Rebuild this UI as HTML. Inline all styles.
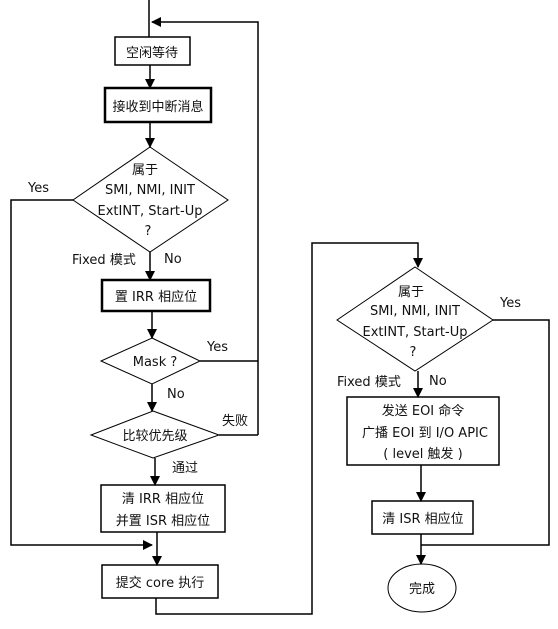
<!DOCTYPE html>
<html><head><meta charset="utf-8"><style>
html,body{margin:0;padding:0;background:#fff;}
svg text{font-family:"DejaVu Sans","Noto Sans CJK SC",sans-serif;font-size:13px;fill:#111;}
</style></head><body>
<svg width="558" height="624" viewBox="0 0 558 624" xmlns="http://www.w3.org/2000/svg">
<defs><marker id="a" markerWidth="10" markerHeight="10" refX="9" refY="5" orient="auto" markerUnits="userSpaceOnUse"><path d="M0,0 L10,5 L0,10 z" fill="#000"/></marker></defs>
<g stroke="#000" stroke-width="1.5" fill="none">
<line x1="149" y1="0" x2="149" y2="37"/>
<polyline points="258,435 258,22 152,22" marker-end="url(#a)"/>
<line x1="150" y1="65" x2="150" y2="88" marker-end="url(#a)"/>
<line x1="150" y1="122" x2="150" y2="147" marker-end="url(#a)"/>
<polyline points="73,200 11,200 11,545 152,545" marker-end="url(#a)"/>
<line x1="150" y1="252" x2="150" y2="280" marker-end="url(#a)"/>
<line x1="152" y1="311" x2="152" y2="338" marker-end="url(#a)"/>
<line x1="200" y1="361" x2="258" y2="361"/>
<line x1="152" y1="384" x2="152" y2="411" marker-end="url(#a)"/>
<line x1="219" y1="435" x2="258" y2="435"/>
<line x1="155" y1="458" x2="155" y2="485" marker-end="url(#a)"/>
<line x1="157" y1="532" x2="157" y2="565" marker-end="url(#a)"/>
<polyline points="156,598 156,614 312,614 312,243 418,243 418,267" marker-end="url(#a)"/>
<polyline points="493,320 549,320 549,545 421,545"/>
<line x1="418" y1="371" x2="418" y2="397" marker-end="url(#a)"/>
<line x1="421" y1="465" x2="421" y2="501" marker-end="url(#a)"/>
<line x1="421" y1="534" x2="421" y2="564" marker-end="url(#a)"/>
<rect x="115" y="37" width="75" height="28"/>
<rect x="105" y="88" width="106" height="34" stroke-width="2.5"/>
<polygon points="150,147 228,200 150,252 73,200" stroke-width="1"/>
<rect x="102" y="280" width="108" height="31" stroke-width="2.5"/>
<polygon points="152,338 200,361 152,384 101,361" stroke-width="1"/>
<polygon points="153,411 219,435 153,458 91,435" stroke-width="1"/>
<rect x="101" y="485" width="124" height="47"/>
<rect x="102" y="565" width="116" height="33"/>
<polygon points="415,267 493,320 415,371 337,320" stroke-width="1"/>
<rect x="347" y="397" width="152" height="68"/>
<rect x="372" y="501" width="101" height="33"/>
<ellipse cx="422" cy="588" rx="34" ry="24" stroke-width="1"/>
</g>
<g text-anchor="middle">
<text x="152" y="57">空闲等待</text>
<text x="158" y="111">接收到中断消息</text>
<text x="145" y="174">属于</text>
<text x="150" y="194">SMI, NMI, INIT</text>
<text x="150" y="215">ExtINT, Start-Up</text>
<text x="148" y="235">?</text>
<text x="156" y="301">置 IRR 相应位</text>
<text x="155" y="366">Mask ?</text>
<text x="155" y="440">比较优先级</text>
<text x="163" y="503">清 IRR 相应位</text>
<text x="163" y="525">并置 ISR 相应位</text>
<text x="160" y="587">提交 core 执行</text>
<text x="411" y="296">属于</text>
<text x="415" y="315">SMI, NMI, INIT</text>
<text x="415" y="336">ExtINT, Start-Up</text>
<text x="413" y="356">?</text>
<text x="423" y="415">发送 EOI 命令</text>
<text x="425" y="437">广播 EOI 到 I/O APIC</text>
<text x="423" y="458">( level 触发 )</text>
<text x="423" y="523">清 ISR 相应位</text>
<text x="422" y="593">完成</text>
</g>
<text x="28" y="192">Yes</text>
<text x="72" y="264">Fixed 模式</text>
<text x="164" y="263">No</text>
<text x="207" y="351">Yes</text>
<text x="167" y="398">No</text>
<text x="222" y="425">失败</text>
<text x="172" y="472">通过</text>
<text x="337" y="386">Fixed 模式</text>
<text x="429" y="385">No</text>
<text x="500" y="307">Yes</text>
</svg>
</body></html>
